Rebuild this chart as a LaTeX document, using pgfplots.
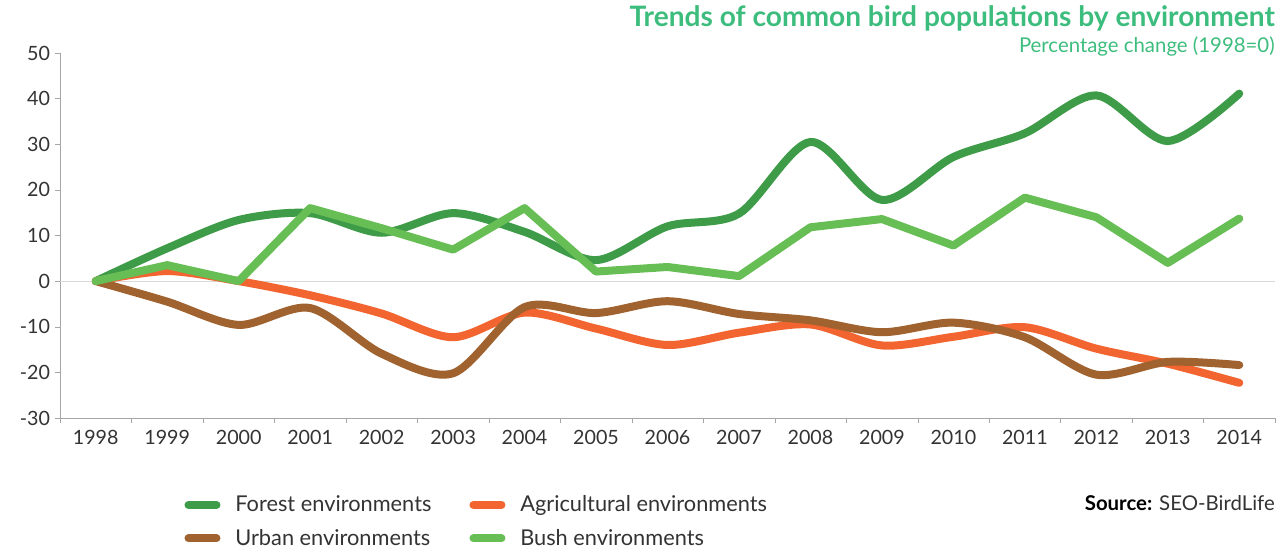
\documentclass[border=0pt]{standalone}
\usepackage{fontspec}
\setmainfont{Lato}
\usepackage{pgfplots}
\pgfplotsset{compat=1.18}
\definecolor{forest}{HTML}{3E9B48}
\definecolor{agri}{HTML}{F26530}
\definecolor{urban}{HTML}{A0622E}
\definecolor{bush}{HTML}{66BE55}
\definecolor{titlegreen}{HTML}{3DBD7D}
\definecolor{txt}{HTML}{333333}
\definecolor{axgray}{HTML}{A6A6A6}
\begin{document}
\begin{tikzpicture}
\useasboundingbox (-15mm,-33.5mm) rectangle (307mm,104.5mm);
\begin{axis}[
  at={(0,0)}, anchor=south west,
  scale only axis, width=303.75mm, height=91.25mm,
  xmin=-0.5, xmax=16.5, ymin=-30, ymax=50,
  axis x line*=bottom, axis y line*=left,
  axis line style={axgray, line width=0.4pt, -},
  xtick={0,...,16},
  xticklabels={1998,1999,2000,2001,2002,2003,2004,2005,2006,2007,2008,2009,2010,2011,2012,2013,2014},
  minor xtick={-0.5,0.5,...,16.5},
  ytick={-30,-20,...,50},
  tick align=outside,
  major tick length=1.25mm, minor tick length=1.25mm,
  x tick style={draw=none}, minor x tick style={draw=axgray},
  y tick style={axgray},
  tick label style={font=\fontsize{14}{16}\selectfont, text=txt},
  xticklabel style={yshift=-0.6mm},
  /pgf/number format/assume math mode=true,
  yticklabel style={/pgf/number format/.cd, 1000 sep={}},
  xticklabel style={/pgf/number format/.cd, 1000 sep={}},
  legend columns=2,
  legend style={at={(30mm,-18mm)}, anchor=north west, draw=none, fill=none,
    font=\fontsize{15.5}{17}\selectfont, text=txt, cells={anchor=west},
    /tikz/every even column/.append style={column sep=8.8mm}, row sep=2.4mm},
  legend image code/.code={\draw[line width=2mm, line cap=round, #1] (0mm,0mm) -- (7mm,0mm); \path (10mm,0mm);},
  clip=false,
]
\draw[black!15, line width=0.5pt] (axis cs:-0.5,0) -- (axis cs:16.5,0);
\addplot[forest, line width=2mm, line cap=round, smooth, tension=0.5] coordinates {
(0,0) (1,7.2) (2,13.4) (3,14.9) (4,10.6) (5,14.9) (6,10.8) (7,4.6) (8,12.0) (9,14.8) (10,30.5) (11,17.8) (12,27.2) (13,32.4) (14,40.7) (15,30.7) (16,41.1)};
\addlegendentry{Forest environments}
\addplot[agri, line width=2mm, line cap=round, smooth, tension=0.5] coordinates {
(0,0) (1,2.2) (2,0.0) (3,-3.1) (4,-7.1) (5,-12.3) (6,-6.9) (7,-10.4) (8,-14.0) (9,-11.3) (10,-9.5) (11,-14.1) (12,-12.2) (13,-10.1) (14,-14.8) (15,-18.1) (16,-22.3)};
\addlegendentry{Agricultural environments}
\addplot[urban, line width=2mm, line cap=round, smooth, tension=0.5] coordinates {
(0,0) (1,-4.5) (2,-9.6) (3,-5.9) (4,-15.9) (5,-20.2) (6,-5.7) (7,-7.0) (8,-4.4) (9,-7.2) (10,-8.6) (11,-11.2) (12,-9.1) (13,-12.3) (14,-20.5) (15,-17.7) (16,-18.4)};
\addlegendentry{Urban environments}
\addplot[bush, line width=2mm, line cap=round, line join=round] coordinates {
(0,0) (1,3.5) (2,0.0) (3,16.0) (4,11.6) (5,6.9) (6,16.0) (7,2.1) (8,3.1) (9,1.1) (10,11.8) (11,13.6) (12,7.8) (13,18.3) (14,14.0) (15,4.0) (16,13.7)};
\addlegendentry{Bush environments}
\end{axis}
\node[anchor=east, inner sep=0pt, text=titlegreen, font=\fontsize{20}{22}\selectfont\bfseries] at (303.75mm,100mm) {Trends of common bird populations by environment};
\node[anchor=east, inner sep=0pt, text=titlegreen, font=\fontsize{14.5}{16}\selectfont] at (303.75mm,93mm) {Percentage change (1998=0)};
\node[anchor=east, inner sep=0pt, text=black, font=\fontsize{14.5}{16}\selectfont] at (303.75mm,-21.25mm) {\textbf{Source:} {\color{txt}SEO-BirdLife}};
\end{tikzpicture}
\end{document}
